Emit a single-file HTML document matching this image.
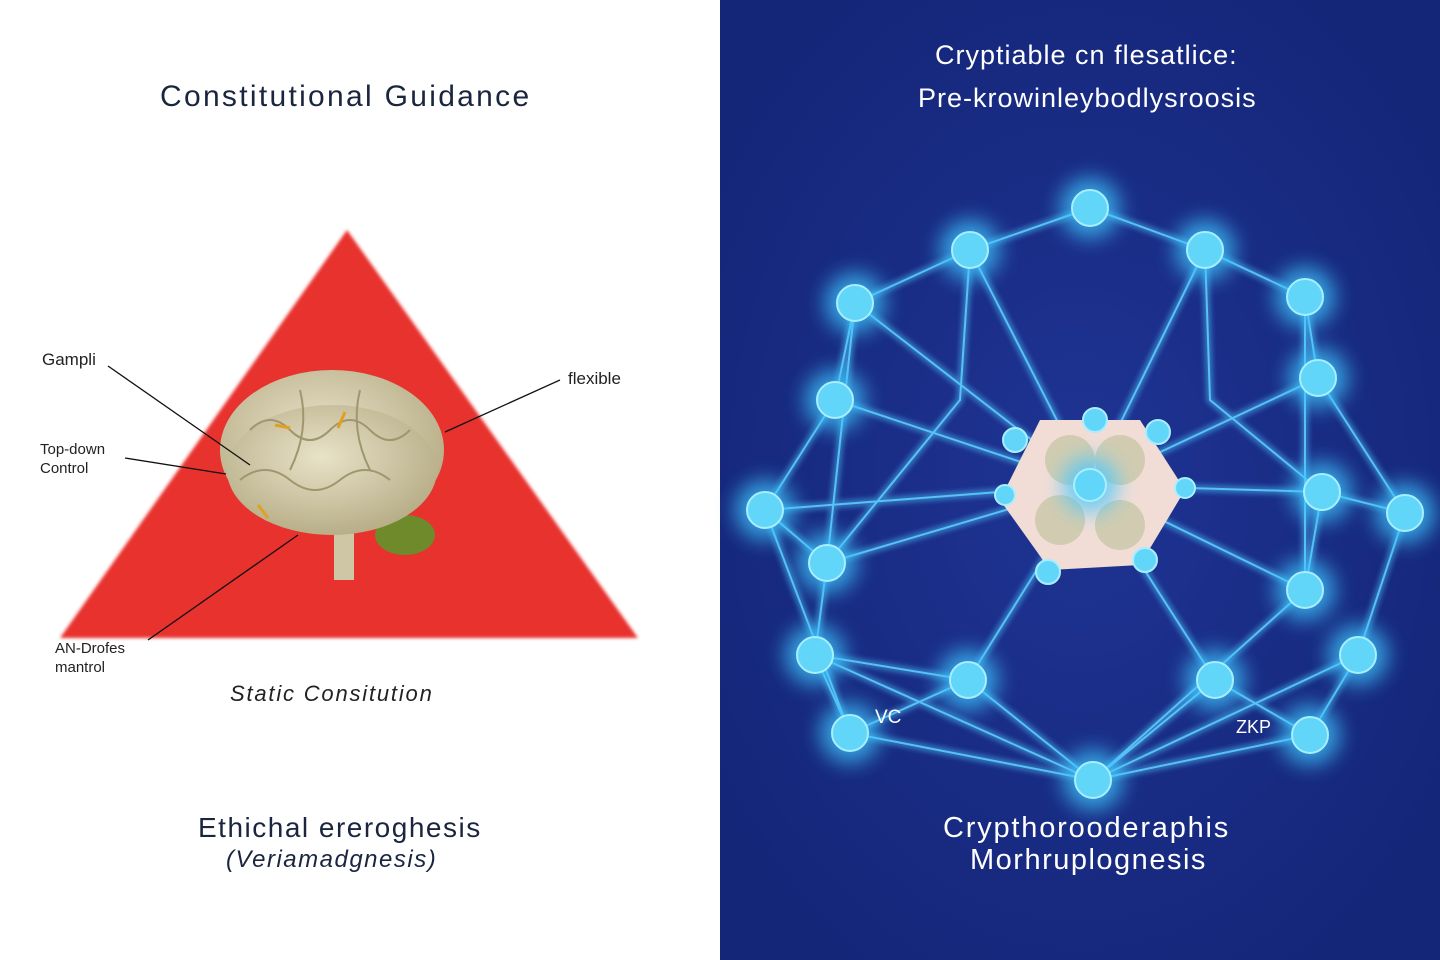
<!DOCTYPE html>
<html><head><meta charset="utf-8"><style>
body{margin:0;width:1440px;height:960px;overflow:hidden;font-family:"Liberation Sans",sans-serif;background:#fff;position:relative}
.t{position:absolute;white-space:nowrap}
</style></head><body>
<svg width="1440" height="960" style="position:absolute;left:0;top:0">
<defs>
<radialGradient id="rb" cx="50%" cy="50%" r="60%"><stop offset="0" stop-color="#1f3494"/><stop offset="1" stop-color="#142678"/></radialGradient>
<filter id="gl" x="-100%" y="-100%" width="300%" height="300%"><feGaussianBlur stdDeviation="10"/></filter>
<filter id="lg" x="-10%" y="-10%" width="120%" height="120%"><feGaussianBlur stdDeviation="3"/></filter>
<filter id="bl"><feGaussianBlur stdDeviation="1.5"/></filter>
<radialGradient id="brain" cx="45%" cy="40%" r="60%"><stop offset="0" stop-color="#e8e2c8"/><stop offset="1" stop-color="#b8ae88"/></radialGradient>
</defs>
<rect x="720" y="0" width="720" height="960" fill="url(#rb)"/>
<polygon points="347,230 60,638 638,638" fill="#e8322e" filter="url(#bl)"/>
<ellipse cx="332" cy="450" rx="112" ry="80" fill="url(#brain)"/>
<ellipse cx="405" cy="535" rx="30" ry="20" fill="#6f8a2a"/>
<rect x="334" y="530" width="20" height="50" fill="#cfc6a6"/>
<ellipse cx="332" cy="470" rx="105" ry="65" fill="url(#brain)"/>
<g stroke="#a0966e" stroke-width="2" fill="none">
<path d="M250 430q20-20 40 0t40 0 40 0 40 0"/><path d="M240 480q25-20 50 0t50 0 50 0"/><path d="M300 390q10 40-10 80"/><path d="M360 390q-10 40 10 80"/></g>
<g stroke="#e0a020" stroke-width="3"><line x1="275" y1="425" x2="290" y2="428"/><line x1="345" y1="412" x2="338" y2="428"/><line x1="258" y1="505" x2="268" y2="518"/></g>
<g stroke="#111" stroke-width="1.3" fill="#111">
<line x1="108" y1="366" x2="250" y2="465"/><line x1="125" y1="458" x2="226" y2="474"/><line x1="560" y1="380" x2="445" y2="432"/><line x1="148" y1="640" x2="298" y2="535"/></g>
<g fill="none" stroke="#4fc8ff">
<path id="np" d="M1090 208L970 250L855 303L835 400L765 510L827 563L815 655L850 733L968 680L1093 780L1215 680L1310 735L1358 655L1405 513L1318 378L1305 297L1205 250L1090 208M970 250L1090 485L1205 250M855 303L1090 485L1322 492L1305 590L1093 780M835 400L1090 485L765 510M827 563L1090 485L968 680M1215 680L1090 485L1305 590M1318 378L1090 485M815 655L968 680M1358 655L1310 735M1322 492L1405 513M850 733L1093 780L1310 735M855 303L827 563M1305 297L1305 590M970 250L960 400L827 563M1205 250L1210 400L1322 492M765 510L850 733M1405 513L1358 655M815 655L1093 780M1358 655L1093 780" stroke-width="6" opacity="0.35" filter="url(#lg)"/>
<use href="#np" stroke-width="2" opacity="0.85" filter="none"/>
</g>
<path d="M1090 208L970 250L855 303L835 400L765 510L827 563L815 655L850 733L968 680L1093 780L1215 680L1310 735L1358 655L1405 513L1318 378L1305 297L1205 250L1090 208M970 250L1090 485L1205 250M855 303L1090 485L1322 492L1305 590L1093 780M835 400L1090 485L765 510M827 563L1090 485L968 680M1215 680L1090 485L1305 590M1318 378L1090 485M815 655L968 680M1358 655L1310 735M1322 492L1405 513M850 733L1093 780L1310 735M855 303L827 563M1305 297L1305 590M970 250L960 400L827 563M1205 250L1210 400L1322 492M765 510L850 733M1405 513L1358 655M815 655L1093 780M1358 655L1093 780" fill="none" stroke="#5fd0ff" stroke-width="2" opacity="0.85"/>
<polygon points="1040,420 1140,420 1185,490 1140,565 1050,570 1000,500" fill="#f2ddd6"/>
<g fill="#c9c9a8" opacity="0.8"><circle cx="1070" cy="460" r="25"/><circle cx="1120" cy="460" r="25"/><circle cx="1060" cy="520" r="25"/><circle cx="1120" cy="525" r="25"/></g>
<g fill="#3fc8ff" opacity="0.75" filter="url(#gl)">
<circle cx="1090" cy="208" r="30"/><circle cx="970" cy="250" r="30"/><circle cx="1205" cy="250" r="30"/><circle cx="855" cy="303" r="30"/><circle cx="1305" cy="297" r="30"/><circle cx="835" cy="400" r="30"/><circle cx="1318" cy="378" r="30"/><circle cx="765" cy="510" r="30"/><circle cx="1322" cy="492" r="30"/><circle cx="1405" cy="513" r="30"/><circle cx="827" cy="563" r="30"/><circle cx="1305" cy="590" r="30"/><circle cx="815" cy="655" r="30"/><circle cx="1358" cy="655" r="30"/><circle cx="968" cy="680" r="30"/><circle cx="1215" cy="680" r="30"/><circle cx="850" cy="733" r="30"/><circle cx="1310" cy="735" r="30"/><circle cx="1093" cy="780" r="30"/><circle cx="1090" cy="485" r="28"/></g>
<g fill="#62d6f8" stroke="#a8eeff" stroke-width="2">
<circle cx="1090" cy="208" r="18"/><circle cx="970" cy="250" r="18"/><circle cx="1205" cy="250" r="18"/><circle cx="855" cy="303" r="18"/><circle cx="1305" cy="297" r="18"/><circle cx="835" cy="400" r="18"/><circle cx="1318" cy="378" r="18"/><circle cx="765" cy="510" r="18"/><circle cx="1322" cy="492" r="18"/><circle cx="1405" cy="513" r="18"/><circle cx="827" cy="563" r="18"/><circle cx="1305" cy="590" r="18"/><circle cx="815" cy="655" r="18"/><circle cx="1358" cy="655" r="18"/><circle cx="968" cy="680" r="18"/><circle cx="1215" cy="680" r="18"/><circle cx="850" cy="733" r="18"/><circle cx="1310" cy="735" r="18"/><circle cx="1093" cy="780" r="18"/><circle cx="1090" cy="485" r="16"/>
<circle cx="1015" cy="440" r="12"/><circle cx="1095" cy="420" r="12"/><circle cx="1158" cy="432" r="12"/><circle cx="1185" cy="488" r="10"/><circle cx="1005" cy="495" r="10"/><circle cx="1048" cy="572" r="12"/><circle cx="1145" cy="560" r="12"/></g>
</svg>
<div class="t" style="left:160px;top:80px;font-size:30px;color:#1a2540;letter-spacing:2.3px">Constitutional Guidance</div>
<div class="t" style="left:42px;top:350px;font-size:17px;color:#222">Gampli</div>
<div class="t" style="left:40px;top:440px;font-size:15px;color:#222;line-height:19px">Top-down<br>Control</div>
<div class="t" style="left:568px;top:369px;font-size:17px;color:#222">flexible</div>
<div class="t" style="left:55px;top:639px;font-size:15px;color:#222;line-height:19px">AN-Drofes<br>mantrol</div>
<div class="t" style="left:230px;top:681px;font-size:22px;color:#222;font-style:italic;letter-spacing:1.8px">Static Consitution</div>
<div class="t" style="left:198px;top:812px;font-size:28px;color:#1a2540;letter-spacing:1.5px">Ethichal ereroghesis</div>
<div class="t" style="left:226px;top:846px;font-size:24px;color:#1a2540;font-style:italic;letter-spacing:1.5px">(Veriamadgnesis)</div>
<div class="t" style="left:935px;top:40px;font-size:27px;color:#fff;letter-spacing:1px">Cryptiable cn flesatlice:</div>
<div class="t" style="left:918px;top:83px;font-size:27px;color:#fff;letter-spacing:1px">Pre-krowinleybodlysroosis</div>
<div class="t" style="left:875px;top:707px;font-size:19px;color:#fff">VC</div>
<div class="t" style="left:1236px;top:717px;font-size:18px;color:#fff">ZKP</div>
<div class="t" style="left:943px;top:812px;font-size:29px;color:#fff;letter-spacing:1.8px">Crypthoroodera­phis</div>
<div class="t" style="left:970px;top:844px;font-size:29px;color:#fff;letter-spacing:1.5px">Morhruplognesis</div>
</body></html>
